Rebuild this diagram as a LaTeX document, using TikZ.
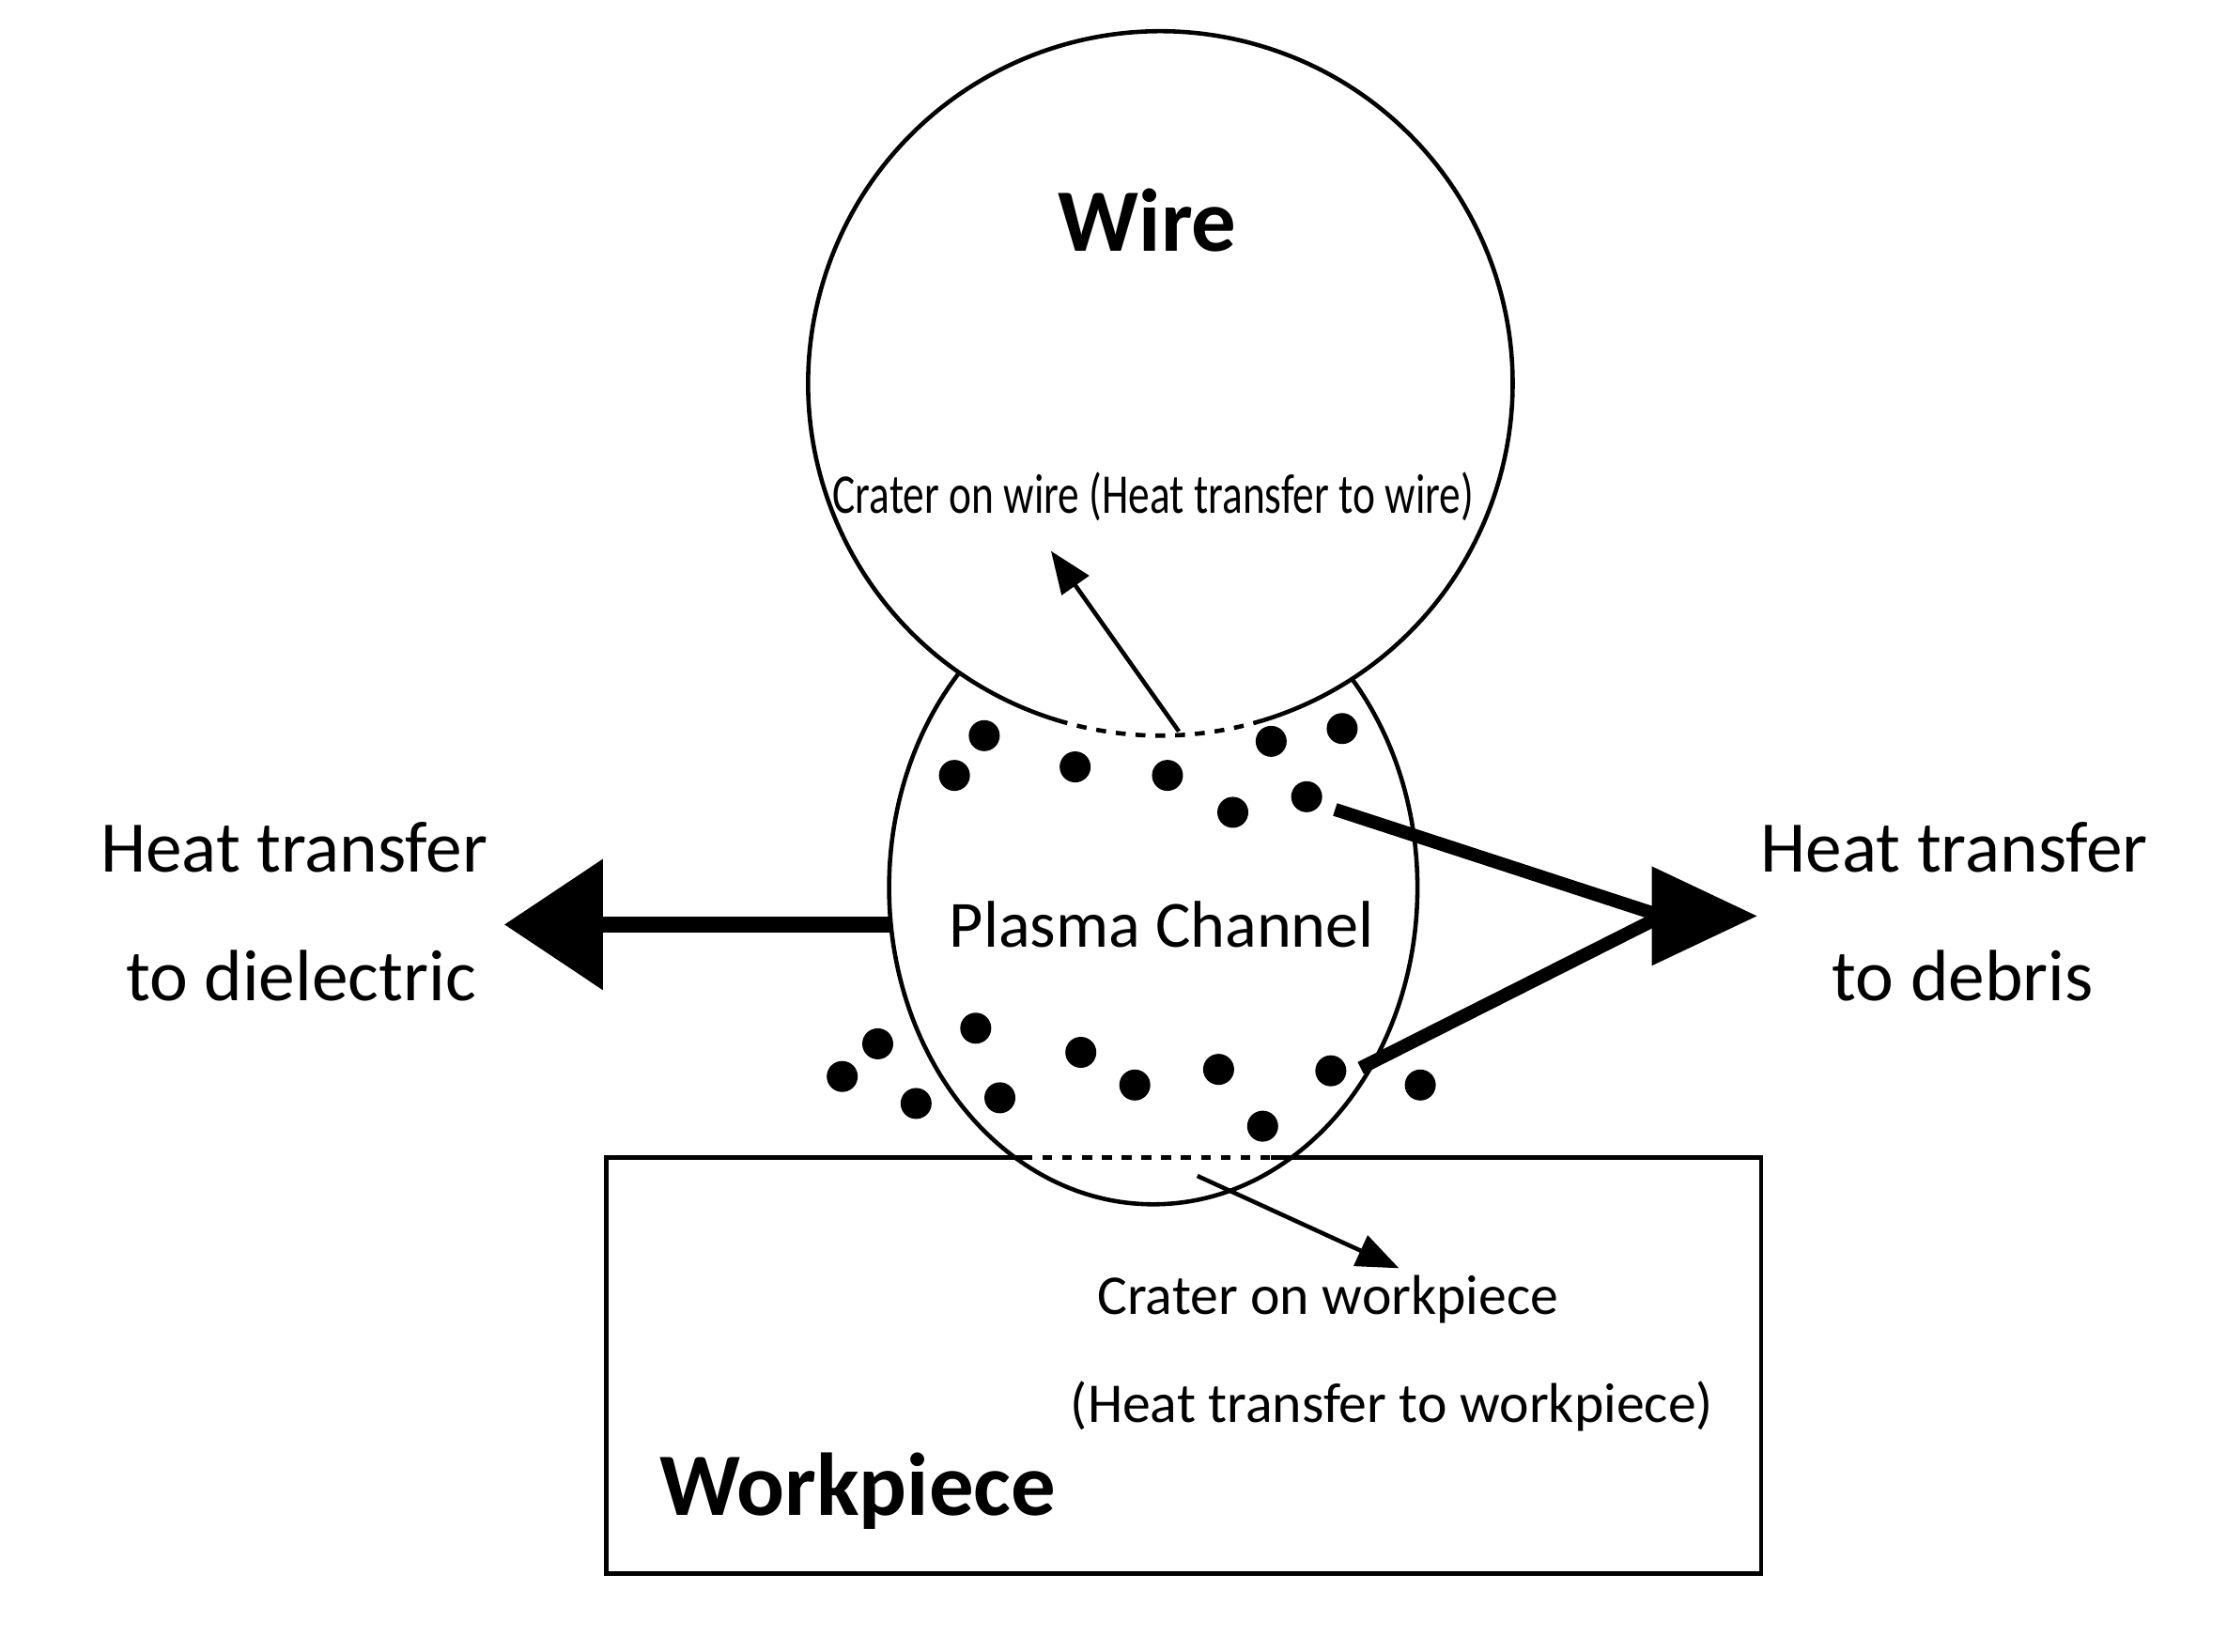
\documentclass[tikz,border=0pt]{standalone}
\usepackage{fontspec}
\setmainfont{Carlito}
\usetikzlibrary{arrows.meta}
\begin{document}
\begin{tikzpicture}[x=0.01512cm,y=-0.01512cm,
  lbl/.style={inner sep=0,font=\fontsize{22}{25}\selectfont},
  ttl/.style={inner sep=0,font=\fontsize{27}{30}\selectfont\bfseries},
  small/.style={inner sep=0,font=\fontsize{17}{20}\selectfont},
  dot/.style={circle,fill=black,minimum size=0.33cm,inner sep=0},
  thin/.style={line width=1.3pt,-{Triangle[length=0.45cm,width=0.35cm]}},
  edge/.style={line width=1.3pt}]
  \useasboundingbox (0,0) rectangle (1568,1163);
  % plasma channel
  \coordinate (plasma) at (812,625);
  \draw[edge] (plasma) ellipse [x radius=186,y radius=223];
  % wire
  \coordinate (wire) at (817,270);
  \fill[white] (wire) circle [radius=248];
  \draw[edge] (wire) ++(106.9:248) arc [start angle=106.9,end angle=433.1,radius=248];
  \draw[edge,dashed] (wire) ++(73.1:248) arc [start angle=73.1,end angle=106.9,radius=248];
  % workpiece
  \draw[edge] (720,815) -- (427,815) -- (427,1108) -- (1240,1108) -- (1240,815) -- (895,815);
  \draw[edge,dashed] (720,815) -- (895,815);
  % debris
  \foreach \px/\py [count=\i] in {693/518,672/546,757/540,822/546,868/572,895/522,945/513,920/561,
      618/735,593/758,645/777,687/724,704/773,761/741,799/764,858/753,937/754,889/793,1000/764}
    \node[dot] (d\i) at (\px,\py) {};
  % labels
  \node[ttl] (wirelbl) at (808,155) {Wire};
  \node[ttl] (wplbl) at (604,1050) {Workpiece};
  \node[small,xscale=0.76] (crw) at (812,350) {Crater on wire (Heat transfer to wire)};
  \node[lbl,font=\fontsize{20}{23}\selectfont] (pc) at (818,651) {Plasma Channel};
  \node[lbl] (hd1) at (207,597) {Heat transfer};
  \node[lbl] (hd2) at (212,687) {to dielectric};
  \node[lbl] (hb1) at (1376,597) {Heat transfer};
  \node[lbl] (hb2) at (1382,687) {to debris};
  \node[small] (crp1) at (935,915) {Crater on workpiece};
  \node[small] (crp2) at (980,990) {(Heat transfer to workpiece)};
  % arrows
  \coordinate (a1) at (830,515);
  \coordinate (a2) at (740,388);
  \draw[thin] (a1) -- (a2);
  \coordinate (b1) at (843,828);
  \coordinate (b2) at (985,893);
  \draw[thin] (b1) -- (b2);
  \coordinate (l1) at (628,651);
  \coordinate (l2) at (355,651);
  \draw[line width=5pt,-{Triangle[length=1.05cm,width=1.35cm]}] (l1) -- (l2);
  \coordinate (r1) at (940,570);
  \coordinate (r2) at (958,752);
  \coordinate (rm) at (1170,645);
  \draw[line width=4pt] (r1) -- (rm) -- (r2);
  \fill (1163,610) -- (1237,645) -- (1163,680) -- cycle;
\end{tikzpicture}
\end{document}
